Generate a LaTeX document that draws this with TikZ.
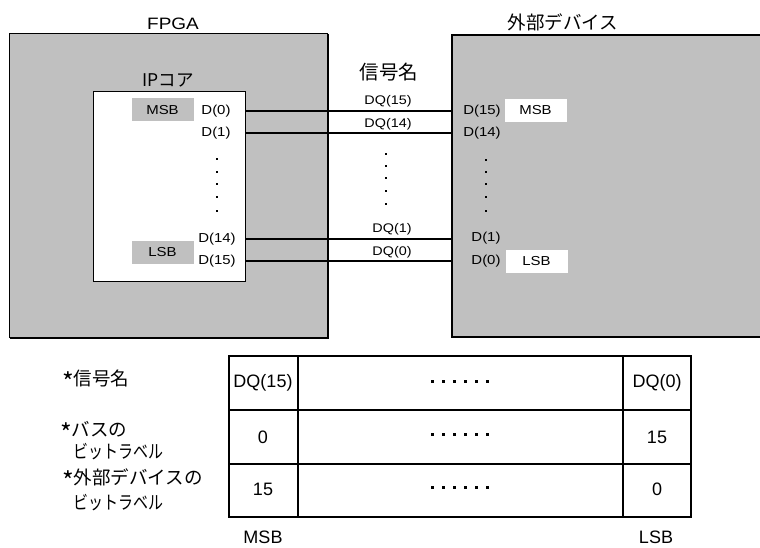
\documentclass[tikz,border=0pt]{standalone}
\usepackage{fontspec}
\setmainfont{Liberation Sans}
\newfontfamily\cjk{Noto Sans CJK JP}
\newcommand\wx[1]{\scalebox{1.15}[1]{#1}}
\newcommand\nx[1]{\scalebox{0.81}[1]{#1}}
\newcommand\lowast{\raisebox{-0.32em}{\scalebox{1.35}{*}}}
\definecolor{boxgray}{RGB}{192,192,192}
\begin{document}
\begin{tikzpicture}[x=1pt,y=-1pt,
  pin/.style={inner sep=0pt, font=\fontsize{13}{15}\selectfont},
  sig/.style={inner sep=0pt, font=\fontsize{12.5}{14}\selectfont},
  title/.style={inner sep=0pt, font=\fontsize{16.5}{19}\selectfont},
  jtitle/.style={inner sep=0pt, font=\cjk\fontsize{18.5}{21}\selectfont},
  jlab/.style={inner sep=0pt, anchor=west, align=left},
  cell/.style={inner sep=0pt, font=\fontsize{18}{20}\selectfont},
  wire/.style={line width=1.5pt},
  dotsq/.style={fill=black, minimum size=2.2pt, inner sep=0pt},
  tabdot/.style={fill=black, minimum size=3pt, inner sep=0pt},
  tagbox/.style={inner sep=0pt, minimum width=62pt, minimum height=23pt},
]
\useasboundingbox (0,0) rectangle (760,548);
\fill[white] (0,0) rectangle (760,548);

% FPGA box
\node[fill=boxgray, inner sep=0pt, minimum width=318pt, minimum height=304pt] (fpga) at (169,186) {};
\draw[line width=1pt] (fpga.south west) -- (fpga.north west) -- (fpga.north east);
\draw[line width=2pt] (fpga.north east) -- (fpga.south east) -- (fpga.south west);
\node[title] (fpgat) at (173,24) {\wx{FPGA}};

% External device box
\node[fill=boxgray, inner sep=0pt, minimum width=310pt, minimum height=302pt] (dev) at (607,186) {};
\draw[line width=2pt] (dev.north east) -- (dev.north west) -- (dev.south west) -- (dev.south east);
\node[jtitle] (devt) at (563,22) {外部デバイス};

% IP core
\node[fill=white, draw=black, line width=1pt, inner sep=0pt, minimum width=152pt, minimum height=189pt] (ip) at (169,186.5) {};
\node[jtitle, font=\cjk\fontsize{17.5}{20}\selectfont] (ipt) at (168,80) {IPコア};

\node[tagbox, fill=boxgray] (msbL) at (162.5,110) {\fontsize{13}{15}\selectfont\wx{MSB}};
\node[tagbox, fill=boxgray] (lsbL) at (162.5,252) {\fontsize{13}{15}\selectfont\wx{LSB}};
\node[pin] (d0) at (216,111) {\wx{D(0)}};
\node[pin] (d1) at (216,133) {\wx{D(1)}};
\node[pin] (d14) at (217,239) {\wx{D(14)}};
\node[pin] (d15) at (217,261) {\wx{D(15)}};
\foreach \y [count=\i] in {159,172,184,197,211} \node[dotsq] (ldot\i) at (217,\y) {};

% device pins
\node[tagbox, fill=white] (msbR) at (535.5,110.5) {\fontsize{13}{15}\selectfont\wx{MSB}};
\node[tagbox, fill=white] (lsbR) at (536.5,261.5) {\fontsize{13}{15}\selectfont\wx{LSB}};
\node[pin] (e15) at (482,111) {\wx{D(15)}};
\node[pin] (e14) at (482,133) {\wx{D(14)}};
\node[pin] (e1) at (486,238) {\wx{D(1)}};
\node[pin] (e0) at (486,261) {\wx{D(0)}};
\foreach \y [count=\i] in {160,172,184,197,211} \node[dotsq] (rdot\i) at (486,\y) {};

% signals
\node[jtitle, font=\cjk\fontsize{19.5}{22}\selectfont] (sigt) at (389,72) {信号名};
\coordinate (a0) at (245,111); \coordinate (b0) at (452,111);
\coordinate (a1) at (245,133); \coordinate (b1) at (452,133);
\coordinate (a2) at (245,239); \coordinate (b2) at (452,239);
\coordinate (a3) at (245,261); \coordinate (b3) at (452,261);
\draw[wire] (a0) -- (b0);
\draw[wire] (a1) -- (b1);
\draw[wire] (a2) -- (b2);
\draw[wire] (a3) -- (b3);
\node[sig] (q15) at (388,101) {\wx{DQ(15)}};
\node[sig] (q14) at (388,124) {\wx{DQ(14)}};
\node[sig] (q1) at (392,229) {\wx{DQ(1)}};
\node[sig] (q0) at (392,252) {\wx{DQ(0)}};
\foreach \y [count=\i] in {154,166,178,191,204} \node[dotsq] (mdot\i) at (386,\y) {};

% table
\draw[line width=1.5pt] (229,356) rectangle (691,517);
\draw[line width=1.5pt] (229,410) -- (691,410);
\draw[line width=1.5pt] (229,464) -- (691,464);
\draw[line width=1.5pt] (298,356) -- (298,517);
\draw[line width=1.5pt] (623,356) -- (623,517);
\node[cell] (c11) at (263,383) {DQ(15)};
\node[cell] (c21) at (263,437) {0};
\node[cell] (c31) at (263,489) {15};
\node[cell] (c13) at (657,383) {DQ(0)};
\node[cell] (c23) at (657,437) {15};
\node[cell] (c33) at (657,489) {0};
\foreach \y [count=\r] in {381,434,487}
  \foreach \k in {0,...,5}
    \node[tabdot] (td\r\k) at (432+11*\k,\y) {};
\node[cell] (msbB) at (263,537) {MSB};
\node[cell] (lsbB) at (656,537) {LSB};

% row labels
\node[jlab, font=\cjk\fontsize{18.5}{21}\selectfont] (r1) at (62,381) {\lowast 信号名};
\node[jlab, font=\cjk\fontsize{18.5}{22}\selectfont] (r2) at (60,440.5) {\lowast バスの\\\hspace{13pt}\nx{ビットラベル}};
\node[jlab, font=\cjk\fontsize{18.5}{25}\selectfont] (r3) at (62,490) {\lowast 外部デバイスの\\\hspace{11pt}\nx{ビットラベル}};
\end{tikzpicture}
\end{document}
